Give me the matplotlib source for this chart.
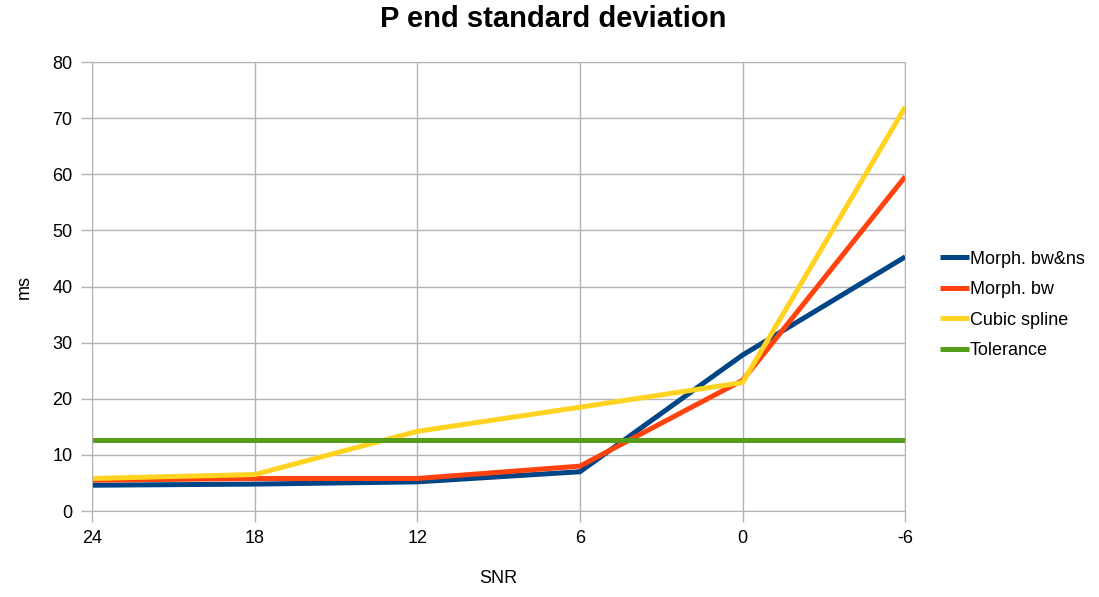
import numpy as np
import matplotlib
matplotlib.use("Agg")
import matplotlib.pyplot as plt

plt.rcParams['font.family'] = ['Liberation Sans', 'DejaVu Sans']

# data
snr = ['24', '18', '12', '6', '0', '-6']
morph_bw_ns = [4.6, 4.8, 5.2, 7.0, 27.8, 45.3]
morph_bw = [5.5, 5.8, 5.8, 8.0, 23.3, 59.6]
cubic_spline = [5.8, 6.5, 14.2, 18.5, 22.9, 72.0]
tolerance = [12.7] * len(snr)

series = [
    ('Morph. bw&ns', morph_bw_ns, '#004586'),
    ('Morph. bw', morph_bw, '#ff420e'),
    ('Cubic spline', cubic_spline, '#ffd320'),
    ('Tolerance', tolerance, '#579d1c'),
]

fig = plt.figure(figsize=(10.99, 5.97), dpi=100)
ax = fig.add_axes([0.0837, 0.144, 0.74, 0.752])

x = np.arange(len(snr))
for name, vals, col in series:
    ax.plot(x, vals, color=col, lw=3.6, label=name, solid_capstyle='butt')

ax.set_xlim(0, len(snr) - 1)
ax.set_ylim(0, 80)
ax.set_xticks(x)
ax.set_xticklabels(snr)
ax.set_yticks(np.arange(0, 81, 10))
ax.grid(True, color='#b3b3b3', lw=1)
ax.set_axisbelow(True)
for s in ax.spines.values():
    s.set_color('#b3b3b3')
ax.tick_params(colors='#b3b3b3', labelcolor='black', labelsize=13, length=8, width=1, pad=6)

fig.suptitle('P end standard deviation', fontsize=21, fontweight='bold', x=0.503, y=0.968, va='center')
ax.set_xlabel('SNR', fontsize=13, labelpad=16)
ax.set_ylabel('ms', fontsize=13, labelpad=14)

ax.legend(loc='center left', bbox_to_anchor=(1.043, 0.459), frameon=False, fontsize=13,
          handlelength=1.6, handletextpad=0.05, labelspacing=0.75, borderaxespad=0,
          borderpad=0)

fig.savefig('out.png', dpi=100)
